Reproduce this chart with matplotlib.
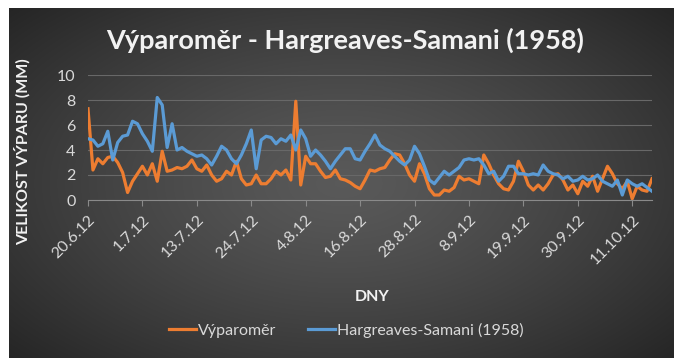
import matplotlib.pyplot as plt
import numpy as np

tick_labels = ['20.6.12', '1.7.12', '13.7.12', '24.7.12', '4.8.12', '16.8.12',
               '28.8.12', '8.9.12', '19.9.12', '30.9.12', '11.10.12']

# denni vypar [mm]
vyparomer = [7.3, 2.4, 3.3, 2.9, 3.4, 3.5, 3.0, 2.2, 0.6, 1.5,
             2.1, 2.7, 2.0, 2.9, 1.5, 3.9, 2.3, 2.4, 2.6, 2.5,
             2.7, 3.2, 2.5, 2.3, 2.8, 2.0, 1.5, 1.7, 2.3, 2.0,
             3.1, 1.7, 1.2, 1.3, 2.0, 1.3, 1.3, 1.7, 2.3, 2.0,
             2.4, 1.6, 7.9, 1.2, 3.5, 2.9, 2.9, 2.3, 1.8, 1.9,
             2.4, 1.7, 1.6, 1.4, 1.1, 0.9, 1.6, 2.4, 2.3, 2.5,
             2.6, 3.2, 3.7, 3.6, 2.9, 2.0, 1.5, 2.9, 2.1, 0.9,
             0.4, 0.4, 0.8, 0.7, 1.0, 1.9, 1.6, 1.7, 1.5, 1.3,
             3.6, 2.9, 2.0, 1.3, 0.9, 0.8, 1.5, 3.1, 2.3, 1.2,
             0.8, 1.2, 0.8, 1.3, 2.0, 2.1, 1.6, 0.8, 1.2, 0.5,
             1.5, 1.1, 1.9, 0.7, 1.7, 2.7, 2.1, 1.3, 0.9, 1.5,
             0.1, 1.1, 0.8, 0.7, 1.7]

hargreaves = [4.9, 4.8, 4.3, 4.5, 5.5, 3.2, 4.6, 5.1, 5.2, 6.3,
              6.1, 5.3, 4.7, 3.9, 8.2, 7.6, 4.2, 6.1, 4.0, 4.2,
              3.9, 3.7, 3.5, 3.6, 3.3, 2.8, 3.5, 4.3, 4.0, 3.3,
              2.9, 3.6, 4.5, 5.6, 2.5, 4.8, 5.1, 5.0, 4.5, 4.9,
              4.7, 5.2, 4.0, 5.6, 4.9, 3.5, 4.0, 3.6, 3.1, 2.5,
              3.1, 3.6, 4.1, 4.1, 3.3, 3.2, 3.9, 4.5, 5.2, 4.4,
              4.1, 3.9, 3.5, 3.1, 2.8, 3.2, 4.3, 3.7, 2.7, 1.6,
              1.3, 1.8, 2.3, 2.0, 2.3, 2.6, 3.2, 3.3, 3.2, 3.3,
              2.8, 2.1, 2.3, 1.5, 1.9, 2.7, 2.7, 2.1, 2.1, 2.0,
              2.1, 2.0, 2.8, 2.3, 2.1, 2.0, 1.7, 1.9, 1.5, 1.6,
              1.9, 1.6, 1.7, 2.0, 1.5, 1.3, 1.1, 1.6, 0.4, 1.6,
              1.3, 1.1, 1.3, 1.0, 0.7]

W, H = 674, 358
plt.rcParams['font.family'] = ['Lato', 'DejaVu Sans']

fig = plt.figure(figsize=(W / 100, H / 100), dpi=100)
fig.patch.set_facecolor('white')

# tmave pozadi s radialnim prechodem
bg = fig.add_axes([9 / W, 0, 1 - 9 / W, 1 - 8 / H])
bg.axis('off')
ny, nx = 350, 665
yy, xx = np.mgrid[0:ny, 0:nx]
r = np.sqrt(((xx - 0.5 * nx) / (0.7 * nx)) ** 2 + ((yy - 0.5 * ny) / (0.75 * ny)) ** 2)
r = np.clip(r, 0, 1)
shade = 0.35 - 0.21 * r ** 1.3
bg.imshow(np.dstack([shade] * 3), aspect='auto', interpolation='bilinear')

ax = fig.add_axes([88 / W, (H - 200) / H, 564 / W, 125 / H])
ax.set_facecolor('none')
x = np.arange(len(vyparomer))
ax.plot(x, vyparomer, color='#ED7D31', lw=2.3, label='Výparoměr', solid_joinstyle='round')
ax.plot(x, hargreaves, color='#5B9BD5', lw=2.3, label='Hargreaves-Samani (1958)',
        solid_joinstyle='round')

ax.set_xlim(0, len(x) - 1)
ax.set_ylim(0, 10)
ax.set_yticks(range(0, 11, 2))
ax.set_xticks(range(0, 11 * len(tick_labels), 11))
ax.set_xticklabels(tick_labels, rotation=45, ha='right', va='top', rotation_mode='anchor')
ax.grid(axis='y', color='#686868', lw=0.8)
ax.set_axisbelow(True)
for s in ['top', 'right', 'left']:
    ax.spines[s].set_visible(False)
ax.spines['bottom'].set_color('#8a8a8a')
ax.tick_params(axis='y', length=0, pad=9, labelsize=11.5, labelcolor='#d9d9d9')
ax.tick_params(axis='x', length=4, color='#8a8a8a', pad=5, labelsize=11.5, labelcolor='#d9d9d9')

fig.text(345 / W, 1 - 40 / H, 'Výparoměr - Hargreaves-Samani (1958)', color='#f2f2f2',
         fontsize=19.5, fontweight='bold', ha='center', va='center')
fig.text(22 / W, 1 - 152 / H, 'VELIKOST VÝPARU (MM)', color='#f2f2f2', fontsize=11.5,
         fontweight='bold', rotation=90, ha='center', va='center')
fig.text(372 / W, 1 - 297 / H, 'DNY', color='#f2f2f2', fontsize=11.5,
         fontweight='bold', ha='center', va='center')

fig.legend(loc='center', bbox_to_anchor=(346 / W, 1 - 330 / H), ncol=2, frameon=False,
           labelcolor='#d9d9d9', fontsize=11.5, handlelength=1.7, handletextpad=0.1,
           columnspacing=2.0)

fig.savefig('out.png', dpi=100, facecolor=fig.get_facecolor())
